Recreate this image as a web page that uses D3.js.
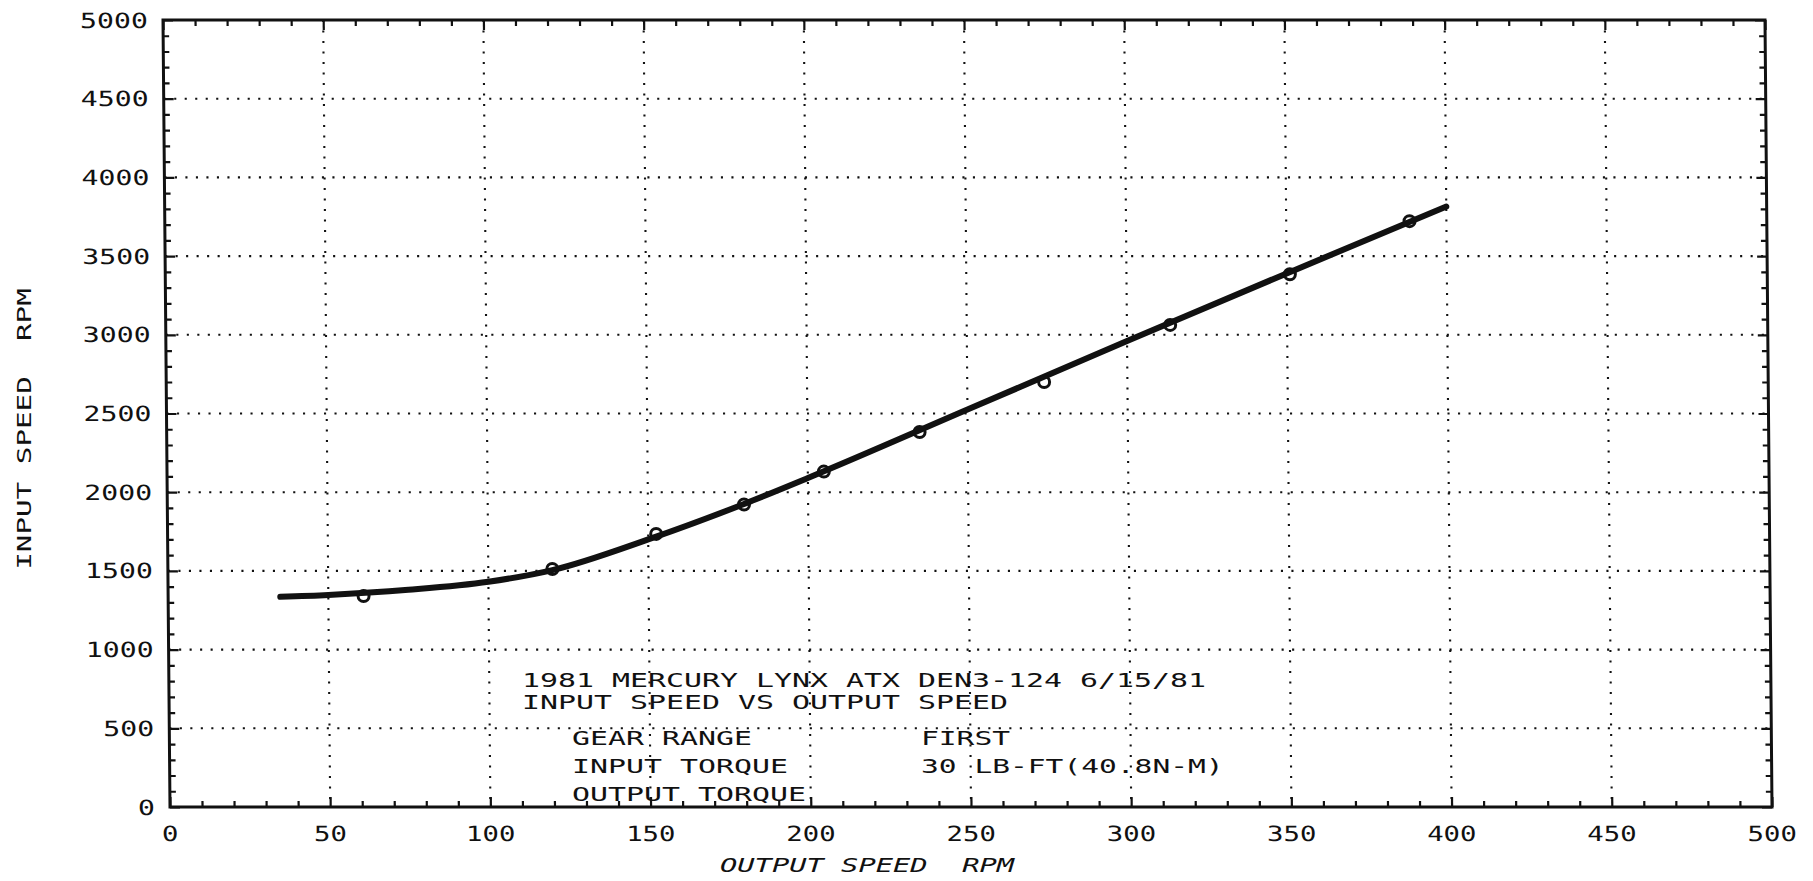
<!DOCTYPE html>
<html>
<head>
<meta charset="utf-8">
<script src="https://cdn.jsdelivr.net/npm/d3@7"></script>
<style>
  html, body { margin: 0; padding: 0; background: #fff; }
  svg { display: block; }
  text { font-family: "DejaVu Sans Mono", "Liberation Mono", monospace; fill: #111; white-space: pre; }
</style>
</head>
<body>
<svg id="chart" width="1813" height="881"></svg>
<script>
// ---------- data ----------
const xTickValues = [0, 50, 100, 150, 200, 250, 300, 350, 400, 450, 500];
const yTickValues = [0, 500, 1000, 1500, 2000, 2500, 3000, 3500, 4000, 4500, 5000];
const xTickLabels = ["0", "50", "100", "150", "200", "250", "300", "350", "400", "450", "500"];
const yTickLabels = ["0", "500", "1000", "1500", "2000", "2500", "3000", "3500", "4000", "4500", "5000"];

// fitted curve (output speed rpm -> input speed rpm)
const curveOutput = [35, 50, 75, 100, 120, 150, 180, 200, 250, 300, 350, 400];
const curveInput  = [1335, 1347, 1380, 1431, 1505, 1700, 1925, 2090, 2525, 2960, 3390, 3815];

// measured points
const pointOutput = [61, 120, 152.5, 180, 205, 235, 274, 313.5, 351, 388.5];
const pointInput  = [1340, 1512, 1735, 1922, 2131, 2382, 2700, 3063, 3385, 3722];

const xTitle = "OUTPUT SPEED  RPM";
const yTitle = "INPUT SPEED  RPM";
const noteHeader = ["1981 MERCURY LYNX ATX DEN3-124 6/15/81", "INPUT SPEED VS OUTPUT SPEED"];
const noteKeys = ["GEAR RANGE", "INPUT TORQUE", "OUTPUT TORQUE"];
const noteVals = ["FIRST", "30 LB-FT(40.8N-M)", ""];

// ---------- layout ----------
const plotLeft = 163, plotTop = 20, plotW = 1602, plotH = 787;
const skewDeg = Math.atan(7 / plotH) * 180 / Math.PI;

const svg = d3.select("#chart");
const ink = "#111";

const x = d3.scaleLinear().domain([0, 500]).range([0, plotW]);
const y = d3.scaleLinear().domain([0, 5000]).range([plotH, 0]);

const g = svg.append("g")
  .attr("transform", `translate(${plotLeft},${plotTop}) skewX(${skewDeg})`);

function stretchText(sel, str, adv) {
  sel.text(str)
    .attr("xml:space", "preserve")
    .attr("textLength", Math.max(1, str.length * adv))
    .attr("lengthAdjust", "spacingAndGlyphs");
  return sel;
}

// grid (dotted)
const grid = g.append("g").attr("stroke", ink).attr("stroke-width", 2.1)
  .attr("stroke-dasharray", "2.1 8.4").attr("fill", "none");
grid.selectAll("line.v").data(xTickValues.filter(d => d > 0 && d < 500)).join("line")
  .attr("x1", d => x(d)).attr("x2", d => x(d)).attr("y1", 0).attr("y2", plotH);
grid.selectAll("line.h").data(yTickValues.filter(d => d > 0 && d < 5000)).join("line")
  .attr("class", "h")
  .attr("y1", d => y(d)).attr("y2", d => y(d)).attr("x1", 0).attr("x2", plotW);

// axes via d3 axis generators (inward ticks on all four sides)
const xMinor = d3.range(0, 501, 10);
const yMinor = d3.range(0, 5001, 100);
function styleAxis(a) {
  a.select(".domain").remove();
  a.selectAll("line").attr("stroke", ink).attr("stroke-width", 2.2);
  a.selectAll("text").remove();
}
const axB = g.append("g").attr("transform", `translate(0,${plotH})`)
  .call(d3.axisTop(x).tickValues(xMinor).tickSize(6).tickFormat(""));
styleAxis(axB);
const axT = g.append("g")
  .call(d3.axisBottom(x).tickValues(xMinor).tickSize(6).tickFormat(""));
styleAxis(axT);
const axL = g.append("g")
  .call(d3.axisRight(y).tickValues(yMinor).tickSize(6).tickFormat(""));
styleAxis(axL);
const axR = g.append("g").attr("transform", `translate(${plotW},0)`)
  .call(d3.axisLeft(y).tickValues(yMinor).tickSize(6).tickFormat(""));
styleAxis(axR);
// longer major ticks
[axB, axT].forEach(a => a.selectAll(".tick").filter(d => d % 50 === 0).select("line")
  .attr("y2", a === axB ? -10 : 10));
[axL, axR].forEach(a => a.selectAll(".tick").filter(d => d % 500 === 0).select("line")
  .attr("x2", a === axL ? 10 : -10));

// frame
g.append("rect").attr("x", 0).attr("y", 0).attr("width", plotW).attr("height", plotH)
  .attr("fill", "none").attr("stroke", ink).attr("stroke-width", 3);

// tick labels
g.append("g").selectAll("text").data(yTickValues).join("text")
  .attr("x", -15).attr("y", d => y(d)).attr("dy", "0.36em")
  .attr("text-anchor", "end").attr("font-size", 21)
  .each(function(d, i) { stretchText(d3.select(this), yTickLabels[i], 17); });

g.append("g").selectAll("text").data(xTickValues).join("text")
  .attr("x", d => x(d)).attr("y", plotH + 26).attr("dy", "0.36em")
  .attr("text-anchor", "middle").attr("font-size", 21)
  .each(function(d, i) { stretchText(d3.select(this), xTickLabels[i], 16.5); });

// curve
const line = d3.line().x(d => x(d[0])).y(d => y(d[1])).curve(d3.curveMonotoneX);
g.append("path")
  .datum(curveOutput.map((v, i) => [v, curveInput[i]]))
  .attr("d", line).attr("fill", "none").attr("stroke", ink)
  .attr("stroke-width", 6).attr("stroke-linecap", "round").attr("stroke-linejoin", "round");

// points (open circles)
g.append("g").selectAll("circle").data(pointOutput.map((v, i) => [v, pointInput[i]])).join("circle")
  .attr("cx", d => x(d[0])).attr("cy", d => y(d[1])).attr("r", 5.5)
  .attr("fill", "none").attr("stroke", ink).attr("stroke-width", 3);

// annotation block
const note = svg.append("g").attr("font-size", 19);
const headerY = [687, 709];
noteHeader.forEach((s, i) => {
  stretchText(note.append("text").attr("x", 522).attr("y", headerY[i]), s, 18);
});
const rowY = [745, 773, 801];
noteKeys.forEach((s, i) => {
  stretchText(note.append("text").attr("x", 572).attr("y", rowY[i]), s, 18);
  if (noteVals[i]) stretchText(note.append("text").attr("x", 921).attr("y", rowY[i]), noteVals[i], 17.8);
});

// axis titles
stretchText(svg.append("text").attr("x", 720).attr("y", 872).attr("font-size", 20)
  .attr("font-style", "italic"), xTitle, 17.3);
stretchText(svg.append("text")
  .attr("transform", "translate(31,429) rotate(-90)")
  .attr("text-anchor", "middle").attr("font-size", 20), yTitle, 17.6);
</script>
</body>
</html>
